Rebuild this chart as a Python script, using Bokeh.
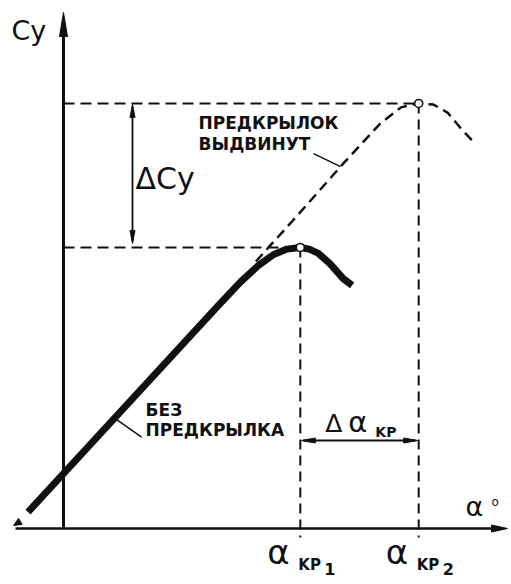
import numpy as np
from bokeh.plotting import figure
from bokeh.models import Range1d
from bokeh.core.properties import value
from bokeh.embed import file_html
from bokeh.resources import INLINE

# ---------------- data ----------------
# curve without slat (thick solid)
alpha_no_slat = [-2.4, 10.5, 12.0, 13.2, 14.2, 15.1, 16.0, 16.6, 17.2, 18.0, 18.9, 19.5]
cy_no_slat = [0.07, 0.955, 1.055, 1.125, 1.17, 1.193, 1.2, 1.193, 1.176, 1.131, 1.067, 1.038]
# curve with slat extended (dashed)
alpha_slat = [13.0, 13.85, 15.5, 18.9, 21.4, 22.8, 23.9, 25.0, 25.95, 26.8, 27.6]
cy_slat = [1.14, 1.2, 1.315, 1.558, 1.729, 1.798, 1.815, 1.81, 1.776, 1.712, 1.657]
# critical angles and maximum lift coefficients
alpha_kr = [16.0, 24.0]
cy_max = [1.2, 1.815]
tick_subs = ["1", "2"]

FONT = value("DejaVu Sans")

# ---------------- figure ----------------
W, H = 511, 584
k0, m0 = 14.8, 234.2          # scale used to lay out the range
X0 = -63 / k0
X1 = X0 + W / k0
Y0 = -(H - 528) / m0
Y1 = 528 / m0
p = figure(width=W, height=H, output_backend="svg", toolbar_location=None,
           x_range=Range1d(X0, X1), y_range=Range1d(Y0, Y1), min_border=0)
p.axis.visible = False
p.grid.visible = False
p.outline_line_color = None
p.background_fill_color = "white"

k = W / (X1 - X0)   # px per alpha unit
m = H / (Y1 - Y0)   # px per Cy unit


def dx(px):
    return px / k


def dy(px):
    return px / m


heads_x, heads_y = [], []


def head(tx, ty, ux, uy, L, Wd):
    """arrow head with tip at (tx,ty); (ux,uy) screen direction (up positive)."""
    n = (ux ** 2 + uy ** 2) ** 0.5
    ux, uy = ux / n, uy / n
    bx, by = -ux * L, -uy * L
    px_, py_ = -uy * Wd / 2, ux * Wd / 2
    xs = [tx, tx + dx(bx + px_), tx + dx(bx - px_)]
    ys = [ty, ty + dy(by + py_), ty + dy(by - py_)]
    heads_x.append(xs)
    heads_y.append(ys)


BLACK = "#111111"

# ---------------- axes ----------------
y_tip = dy(516)
p.line([0, 0], [0, y_tip - dy(18)], line_width=3, line_color=BLACK)
head(0, y_tip, 0, 1, 24, 8)
x_left = -dx(48)
x_tip = dx(444)
p.line([x_left, x_tip - dx(10)], [0, 0], line_width=2.5, line_color=BLACK)
head(x_tip, 0, 1, 0, 16, 7)
head(x_left - dx(2), dy(3), -1, -0.6, 8, 7)

# ---------------- guide lines ----------------
for a, c in zip(alpha_kr, cy_max):
    p.line([0, a], [c, c], line_width=2, line_color=BLACK, line_dash="11 6")
    p.line([a, a], [c, -dy(9)], line_width=2, line_color=BLACK, line_dash="10 6")

# ---------------- curves ----------------
p.line(alpha_slat, cy_slat, line_width=2.5, line_color=BLACK, line_dash="10 6")
p.line(alpha_no_slat, cy_no_slat, line_width=7, line_color=BLACK,
       line_join="round", line_cap="butt")
p.scatter(alpha_kr, cy_max, size=8, fill_color="white", line_color=BLACK, line_width=1.6)

# ---------------- dimension arrows ----------------
a_dcy = dx(69)
p.line([a_dcy, a_dcy], [cy_max[0] + dy(6), cy_max[1] - dy(3)], line_width=1.8, line_color=BLACK)
head(a_dcy, cy_max[1] - dy(1), 0, 1, 13, 5)
head(a_dcy, cy_max[0] + dy(4), 0, -1, 13, 5)

c_da = dy(88)
p.line([alpha_kr[0] + dx(3), alpha_kr[1] - dx(3)], [c_da, c_da], line_width=2, line_color=BLACK)
head(alpha_kr[0] + dx(1), c_da, -1, 0, 14, 5)
head(alpha_kr[1] - dx(1), c_da, 1, 0, 14, 5)

p.patches(heads_x, heads_y, fill_color=BLACK, line_color=BLACK, line_width=1)

# ---------------- texts ----------------
def txt(x, y, s, size, xo=0, yo=0, weight="normal", align="left"):
    # correction for the renderer's baseline placement
    yo = yo - 0.4 * size
    p.text(x=[x], y=[y], text=[s], x_offset=xo, y_offset=yo,
           text_font=FONT, text_font_size=f"{size}px", text_font_style=weight,
           text_align=align, text_baseline="alphabetic", text_color=BLACK)


# axis titles
txt(0, y_tip, "Cy", 27, xo=-52, yo=29)
txt(x_tip, 0, "α", 27, xo=-42, yo=-11)
txt(x_tip, 0, "o", 12, xo=-16, yo=-22)

# tick labels α_KP1, α_KP2
for a, s in zip(alpha_kr, tick_subs):
    txt(a, 0, "α", 34, xo=-33, yo=37)
    txt(a, 0, "KP", 15, xo=-2, yo=42, weight="bold")
    txt(a, 0, s, 16, xo=24, yo=47, weight="bold")

# ΔCy
txt(a_dcy, (cy_max[0] + cy_max[1]) / 2, "ΔCy", 30, xo=3, yo=15)

# Δα_KP
txt(alpha_kr[0], c_da, "Δ", 25, xo=25, yo=-7)
txt(alpha_kr[0], c_da, "α", 29, xo=48, yo=-7)
txt(alpha_kr[0], c_da, "KP", 14, xo=75, yo=-3, weight="bold")

# label: slat extended
a_l1 = 18.72
c_l1 = float(np.interp(a_l1, alpha_slat, cy_slat))
p.line([a_l1, a_l1 - dx(27)], [c_l1, c_l1 + dy(13)], line_width=1.5, line_color=BLACK)
txt(a_l1, c_l1, "ПРЕДКРЫЛОК", 17, xo=-142, yo=-37, weight="bold")
txt(a_l1, c_l1, "ВЫДВИНУТ", 17, xo=-142, yo=-16, weight="bold")

# label: without slat
a_l2 = 3.45
c_l2 = float(np.interp(a_l2, alpha_no_slat, cy_no_slat))
p.line([a_l2, a_l2 + dx(27)], [c_l2, c_l2 - dy(19)], line_width=1.5, line_color=BLACK)
txt(a_l2, c_l2, "БЕЗ", 17, xo=31, yo=-1, weight="bold")
txt(a_l2, c_l2, "ПРЕДКРЫЛКА", 17, xo=31, yo=19, weight="bold")

open("out.html", "w").write(file_html(p, INLINE))
